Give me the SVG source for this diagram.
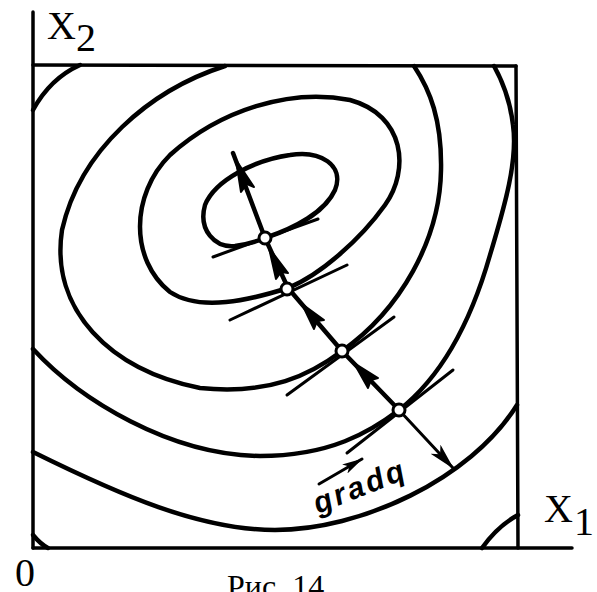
<svg xmlns="http://www.w3.org/2000/svg" width="597" height="592" viewBox="0 0 597 592">
<style>
.ax{fill:none;stroke:#000;stroke-width:3.5;stroke-linecap:round}
.ct{fill:none;stroke:#000;stroke-width:4.5;stroke-linecap:round;stroke-linejoin:round}
.tg{fill:none;stroke:#000;stroke-width:3;stroke-linecap:round}
.pt{fill:#fff;stroke:#000;stroke-width:3}
.ah{fill:#000;stroke:#000;stroke-width:2;stroke-linejoin:round}
.lbl{font-family:"Liberation Serif","Times New Roman",serif;font-size:40px;fill:#000}
.cap{font-family:"Liberation Serif","Times New Roman",serif;font-size:32px;fill:#000}
.gr{font-family:"Liberation Sans",Arial,sans-serif;font-size:30px;font-weight:bold;font-style:italic;fill:#000;letter-spacing:3px}
</style>
<defs>
<marker id="arr" viewBox="0 0 20 10" refX="19" refY="5" markerWidth="9" markerHeight="4.5" orient="auto" markerUnits="strokeWidth">
<path d="M0,0 L20,5 L0,10 L5,5 Z" fill="#000"/>
</marker>
<marker id="arr2" viewBox="0 0 20 10" refX="19" refY="5" markerWidth="7" markerHeight="3.5" orient="auto" markerUnits="strokeWidth">
<path d="M0,0 L20,5 L0,10 L5,5 Z" fill="#000"/>
</marker>
</defs>

<g id="axes">
<line class="ax" x1="33" y1="12" x2="33" y2="548"/>
<line class="ax" x1="33" y1="548" x2="572" y2="548"/>
<line class="ax" x1="33" y1="65" x2="516" y2="66"/>
<line class="ax" x1="516" y1="66" x2="518" y2="548"/>
</g>

<g id="contours">
<path id="corner-tl" class="ct" d="M33,110 C45,88 60,74 80,65"/>
<path id="corner-bl" class="ct" d="M33,535 C38,541 42,545 48,548"/>
<path id="corner-br" class="ct" d="M482,548 C492,534 505,522 518,515"/>
<path id="contour-outer" class="ct" d="M33,452 C120,495 200,530 275,530 C360,530 470,480 517,405"/>
<path id="contour-b" class="ct" d="M33,349 C80,400 170,455 260,456 C330,456 370,432 399,410 C440,378 470,325 490,255 C505,205 518,160 513,125 C510,100 503,82 494,66"/>
<path id="contour-c" class="ct" d="M225,66 C150,90 80,150 62,230 C50,310 110,370 200,388 C270,395 310,375 342,351 C400,310 440,240 441,170 C442,120 430,90 414,66"/>
<path id="contour-d" class="ct" d="M288,288 C320,275 360,240 385,205 C410,170 405,115 350,100 C290,88 220,110 170,155 C130,195 130,260 170,292 C200,312 250,300 288,288 Z"/>
<path id="contour-e" class="ct" d="M265,238 C295,228 325,212 335,190 C345,165 320,150 290,155 C255,160 215,180 205,205 C198,230 215,248 235,246 C248,244 258,241 265,238 Z"/>
</g>

<g id="connectors">
<line class="tg" x1="213" y1="257" x2="318" y2="219"/>
<line class="tg" x1="230" y1="320" x2="347" y2="265"/>
<line class="tg" x1="287" y1="395" x2="394" y2="317"/>
<line class="tg" x1="347" y1="453" x2="453" y2="370"/>
<polyline class="ct" points="233,153 265,238 288,288 342,351 399,410"/>
<line class="tg" x1="399" y1="410" x2="453" y2="468" stroke-width="3.5" marker-end="url(#arr)"/>
<polygon class="ah" points="236,160 254,187 247,184 241,192"/>
<polygon class="ah" points="269,248 288,273 281,272 276,279"/>
<polygon class="ah" points="302,304 324,320 317,321 314,329"/>
<polygon class="ah" points="354,363 378,378 371,380 368,388"/>
<line class="tg" x1="319" y1="484" x2="362" y2="459" marker-end="url(#arr2)"/>
</g>

<g id="points">
<circle class="pt" cx="265" cy="238" r="6"/>
<circle class="pt" cx="287" cy="289" r="6"/>
<circle class="pt" cx="342" cy="351" r="6"/>
<circle class="pt" cx="399" cy="410" r="6"/>
</g>

<g id="labels">
<text class="lbl" x="47" y="39">X</text>
<text class="lbl" x="76" y="51">2</text>
<text class="lbl" x="544" y="522">X</text>
<text class="lbl" x="574" y="535">1</text>
<text class="lbl" x="15" y="586">0</text>
<text class="gr" transform="translate(318,514) rotate(-22)">gradq</text>
<text class="cap" x="227" y="597">Рис. 14</text>
</g>
</svg>
